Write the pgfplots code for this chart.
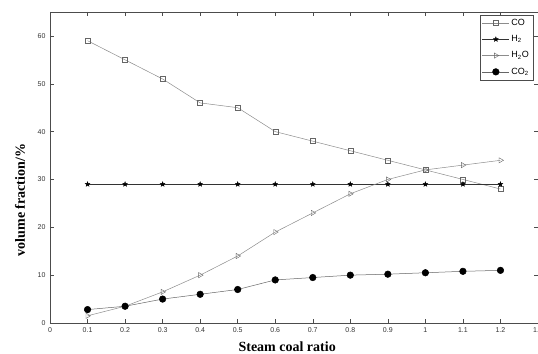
\documentclass[border=0pt]{standalone}
\usepackage{fontspec}
\setmainfont{Liberation Serif}
\setsansfont{Liberation Sans}
\usepackage{pgfplots}
\pgfplotsset{compat=1.18}
\usetikzlibrary{plotmarks}
\pgfdeclareplotmark{fstar}{%
  \pgfpathmoveto{\pgfpointpolar{90}{\pgfplotmarksize}}%
  \pgfpathlineto{\pgfpointpolar{126}{0.42\pgfplotmarksize}}%
  \pgfpathlineto{\pgfpointpolar{162}{\pgfplotmarksize}}%
  \pgfpathlineto{\pgfpointpolar{198}{0.42\pgfplotmarksize}}%
  \pgfpathlineto{\pgfpointpolar{234}{\pgfplotmarksize}}%
  \pgfpathlineto{\pgfpointpolar{270}{0.42\pgfplotmarksize}}%
  \pgfpathlineto{\pgfpointpolar{306}{\pgfplotmarksize}}%
  \pgfpathlineto{\pgfpointpolar{342}{0.42\pgfplotmarksize}}%
  \pgfpathlineto{\pgfpointpolar{18}{\pgfplotmarksize}}%
  \pgfpathlineto{\pgfpointpolar{54}{0.42\pgfplotmarksize}}%
  \pgfpathclose
  \pgfusepathqfillstroke}
\definecolor{lgray}{gray}{0.55}
\definecolor{mgray}{gray}{0.4}
\begin{document}
\begin{tikzpicture}
\begin{axis}[
  scale only axis,
  width=488pt, height=311pt,
  xmin=0, xmax=1.3, ymin=0, ymax=65,
  xtick={0,0.1,0.2,0.3,0.4,0.5,0.6,0.7,0.8,0.9,1,1.1,1.2,1.3},
  xticklabels={0,0.1,0.2,0.3,0.4,0.5,0.6,0.7,0.8,0.9,1,1.1,1.2,1.3},
  ytick={0,10,20,30,40,50,60},
  yticklabels={0,10,20,30,40,50,60},
  tick align=inside,
  major tick length=4pt,
  tick style={black!70, line width=0.4pt},
  axis line style={black!70, line width=0.5pt},
  ticklabel style={font=\sffamily\fontsize{7}{8}\selectfont, text=black!80},
  xticklabel style={yshift=-1pt},
  yticklabel style={xshift=-1pt},
  xlabel={Steam coal ratio},
  ylabel={volume fraction/\%},
  label style={font=\bfseries\fontsize{14}{16}\selectfont},
  xlabel style={at={(axis description cs:0.486,0)}, anchor=center, yshift=-24pt},
  ylabel style={at={(axis description cs:0,0.395)}, anchor=center, yshift=30pt},
  legend style={at={(1,1)}, anchor=north east, xshift=-5pt, yshift=-3pt,
    font=\sffamily\fontsize{9}{10}\selectfont, draw=black!70, line width=0.4pt,
    inner xsep=2pt, inner ysep=2pt, row sep=4.5pt, cells={anchor=west}},
  legend image code/.code={%
    \draw[mark repeat=2,mark phase=2] plot coordinates {(0cm,0cm)(0.47cm,0cm)(0.94cm,0cm)};},
]
\addplot[color=lgray, line width=0.5pt, mark=square, mark size=2.5pt, mark options={solid, draw=mgray, fill=white, line width=0.4pt}]
 coordinates {(0.1,59)(0.2,55)(0.3,51)(0.4,46)(0.5,45)(0.6,40)(0.7,38)(0.8,36)(0.9,34)(1.0,32)(1.1,30)(1.2,28)};
\addlegendentry{CO}
\addplot[color=black!80, line width=0.5pt, mark=fstar, mark size=2.6pt, mark options={solid, draw=black, fill=black, line width=0.3pt}]
 coordinates {(0.1,29)(0.2,29)(0.3,29)(0.4,29)(0.5,29)(0.6,29)(0.7,29)(0.8,29)(0.9,29)(1.0,29)(1.1,29)(1.2,29)};
\addlegendentry{H\textsubscript{2}}
\addplot[color=lgray, line width=0.5pt, mark=triangle, mark size=3pt, mark options={solid, rotate=-90, draw=mgray, fill=white, line width=0.4pt}]
 coordinates {(0.1,1.5)(0.2,3.5)(0.3,6.5)(0.4,10)(0.5,14)(0.6,19)(0.7,23)(0.8,27)(0.9,30)(1.0,32)(1.1,33)(1.2,34)};
\addlegendentry{H\textsubscript{2}O}
\addplot[color=black!60, line width=0.5pt, mark=*, mark size=3.3pt, mark options={solid, draw=black, fill=black}]
 coordinates {(0.1,2.8)(0.2,3.5)(0.3,5)(0.4,6)(0.5,7)(0.6,9)(0.7,9.5)(0.8,10)(0.9,10.2)(1.0,10.5)(1.1,10.8)(1.2,11)};
\addlegendentry{CO\textsubscript{2}}
\end{axis}
\pgfresetboundingbox
\path[use as bounding box] ([shift={(-50pt,-31pt)}]current axis.south west) rectangle ([shift={(0pt,12pt)}]current axis.north east);
\end{tikzpicture}
\end{document}
